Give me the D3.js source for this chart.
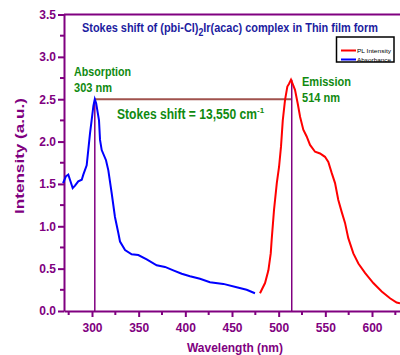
<!DOCTYPE html>
<html>
<head>
<meta charset="utf-8">
<script src="https://cdn.jsdelivr.net/npm/d3@7"></script>
<style>
  body { margin: 0; background: #fff; }
  svg { display: block; }
  text { font-family: "Liberation Sans", Arial, sans-serif; font-weight: bold; }
</style>
</head>
<body>
<svg id="chart" width="400" height="355"></svg>
<script>
// absorbance spectrum (nm, intensity)
const absWl = [269, 272, 274.6, 276.4, 279.3, 281.8, 285.3, 289, 290.7, 294.3, 296, 297.9, 299.6, 301.5, 303, 304.5, 306, 307.5, 308.6, 310.4, 315, 317.5, 321.1, 324.6, 328.2, 330, 335.4, 342.5, 349.6, 358.6, 369.3, 378.2, 387.1, 396.1, 405, 415.7, 426.4, 440.7, 455, 465.7, 474.6];
const absVal = [1.51, 1.59, 1.61, 1.55, 1.45, 1.48, 1.53, 1.55, 1.61, 1.72, 1.9, 2.1, 2.25, 2.42, 2.5, 2.45, 2.35, 2.25, 2.02, 1.9, 1.78, 1.66, 1.39, 1.11, 0.92, 0.82, 0.72, 0.67, 0.66, 0.61, 0.54, 0.52, 0.48, 0.44, 0.41, 0.38, 0.34, 0.32, 0.28, 0.25, 0.21];

// PL emission spectrum
const plWl = [480, 485.4, 489, 491.5, 492.5, 495, 498, 500.4, 502.5, 504.4, 505, 506.8, 509.3, 511, 513.2, 515, 517.5, 520.4, 523, 526.4, 530, 533.6, 539, 544.3, 549.6, 553.2, 556.8, 560.4, 563.9, 567.5, 571.1, 574.6, 580, 585.4, 592.5, 601.4, 610.4, 619.3, 626.4, 630];
const plVal = [0.21, 0.33, 0.48, 0.68, 0.84, 1.19, 1.51, 1.7, 1.94, 2.25, 2.31, 2.49, 2.65, 2.68, 2.73, 2.68, 2.61, 2.45, 2.29, 2.14, 2.06, 1.96, 1.88, 1.86, 1.82, 1.76, 1.63, 1.51, 1.31, 1.17, 1.04, 0.86, 0.68, 0.56, 0.45, 0.33, 0.23, 0.15, 0.1, 0.09];

const xTicks = [300, 350, 400, 450, 500, 550, 600];
const yTicks = [0, 0.5, 1.0, 1.5, 2.0, 2.5, 3.0, 3.5];
const absPeak = 303, absPeakVal = 2.5;
const emPeak = 514, emPeakVal = 2.73;
const legendNames = ["PL Intensity", "Absorbance"];

const purple = "#800080";
const green = "#108a10";

const svg = d3.select("#chart");
const x = d3.scaleLinear().domain([270, 630]).range([64, 400]);
const y = d3.scaleLinear().domain([0, 3.5]).range([311, 14.5]);

// top frame line
svg.append("line")
  .attr("x1", x(270)).attr("x2", 400)
  .attr("y1", y(3.5)).attr("y2", y(3.5))
  .attr("stroke", purple).attr("stroke-width", 2);

// x axis
const xMinor = d3.range(275, 630, 50);
const xAxis = svg.append("g").attr("transform", `translate(0,${y(0)})`);
xAxis.call(d3.axisBottom(x).tickValues(xTicks).tickFormat(d3.format("d")).tickSize(6).tickSizeOuter(0));
xAxis.selectAll(".minor").data(xMinor).enter().append("line")
  .attr("class", "minor")
  .attr("x1", d => x(d)).attr("x2", d => x(d))
  .attr("y1", 0).attr("y2", 4)
  .attr("stroke", purple).attr("stroke-width", 2);

// y axis
const yMinor = d3.range(0.25, 3.5, 0.5);
const yAxis = svg.append("g").attr("transform", `translate(${x(270)},0)`);
yAxis.call(d3.axisLeft(y).tickValues(yTicks).tickFormat(d3.format(".1f")).tickSize(6).tickSizeOuter(0));
yAxis.selectAll(".minor").data(yMinor).enter().append("line")
  .attr("class", "minor")
  .attr("y1", d => y(d)).attr("y2", d => y(d))
  .attr("x1", 0).attr("x2", -4)
  .attr("stroke", purple).attr("stroke-width", 2);

[xAxis, yAxis].forEach(g => {
  g.selectAll("path.domain").attr("stroke", purple).attr("stroke-width", 2);
  g.selectAll(".tick line").attr("stroke", purple).attr("stroke-width", 2);
  g.selectAll(".tick text").attr("fill", purple).style("font-size", "12px")
    .style("font-family", "'Liberation Sans', Arial, sans-serif").style("font-weight", "bold");
});
xAxis.selectAll(".tick text").attr("dy", "1em").attr("y", 9);
yAxis.selectAll(".tick text").attr("x", -8);

// axis titles
svg.append("text")
  .attr("transform", `translate(24,156) rotate(-90)`)
  .attr("text-anchor", "middle")
  .attr("fill", purple).style("font-size", "13.5px")
  .attr("textLength", 116).attr("lengthAdjust", "spacingAndGlyphs")
  .text("Intensity (a.u.)");
svg.append("text")
  .attr("x", 235).attr("y", 352)
  .attr("text-anchor", "middle")
  .attr("fill", purple).style("font-size", "13px")
  .attr("textLength", 96).attr("lengthAdjust", "spacingAndGlyphs")
  .text("Wavelength (nm)");

// peak marker lines
svg.append("line")
  .attr("x1", x(absPeak)).attr("x2", x(emPeak))
  .attr("y1", y(absPeakVal)).attr("y2", y(absPeakVal))
  .attr("stroke", "#a0524d").attr("stroke-width", 2);
svg.append("line")
  .attr("x1", x(absPeak)).attr("x2", x(absPeak))
  .attr("y1", y(absPeakVal)).attr("y2", y(0))
  .attr("stroke", purple).attr("stroke-width", 1.5);
svg.append("line")
  .attr("x1", x(emPeak)).attr("x2", x(emPeak))
  .attr("y1", y(emPeakVal)).attr("y2", y(0))
  .attr("stroke", purple).attr("stroke-width", 1.5);

// spectra
const line = d3.line().x(d => x(d[0])).y(d => y(d[1]));
svg.append("path")
  .datum(d3.zip(absWl, absVal))
  .attr("d", line).attr("fill", "none")
  .attr("stroke", "#0000ff").attr("stroke-width", 2);
svg.append("path")
  .datum(d3.zip(plWl, plVal))
  .attr("d", line).attr("fill", "none")
  .attr("stroke", "#ff0000").attr("stroke-width", 2);

// title
const title = svg.append("text")
  .attr("x", 82).attr("y", 32)
  .attr("fill", "#1c1ca0").style("font-size", "12.5px")
  .attr("textLength", 296).attr("lengthAdjust", "spacingAndGlyphs");
title.append("tspan").text("Stokes shift of (pbi-Cl)");
title.append("tspan").attr("dy", 4).style("font-size", "10px").text("2");
title.append("tspan").attr("dy", -4).text("Ir(acac) complex in Thin film form");

// annotations
function note(tx, ty, str, len) {
  svg.append("text")
    .attr("x", tx).attr("y", ty)
    .attr("fill", green).style("font-size", "12.5px")
    .attr("textLength", len).attr("lengthAdjust", "spacingAndGlyphs")
    .text(str);
}
note(74, 76, "Absorption", 57);
note(74, 92, "303 nm", 38);
note(302, 86, "Emission", 49);
note(302, 102, "514 nm", 38);

const stokes = svg.append("text")
  .attr("x", 117).attr("y", 119)
  .attr("fill", green).style("font-size", "14px");
stokes.append("tspan").attr("textLength", 140).attr("lengthAdjust", "spacingAndGlyphs")
  .text("Stokes shift = 13,550 cm");
stokes.append("tspan").attr("dy", -6).style("font-size", "8px").text("-1");

// legend
const lg = svg.append("g");
lg.append("rect")
  .attr("x", 336.5).attr("y", 37).attr("width", 57.5).attr("height", 25)
  .attr("fill", "#fff").attr("stroke", "#000").attr("stroke-width", 1.5);
const legendColors = ["#ff0000", "#0000ff"];
legendNames.forEach((n, i) => {
  const ly = 50.5 + i * 9;
  lg.append("line")
    .attr("x1", 341).attr("x2", 356).attr("y1", ly).attr("y2", ly)
    .attr("stroke", legendColors[i]).attr("stroke-width", 2);
  lg.append("text")
    .attr("x", 357).attr("y", ly + 2)
    .attr("fill", "#000").style("font-size", "6px").style("font-weight", "normal")
    .attr("textLength", 34).attr("lengthAdjust", "spacingAndGlyphs")
    .text(n);
});
</script>
</body>
</html>
